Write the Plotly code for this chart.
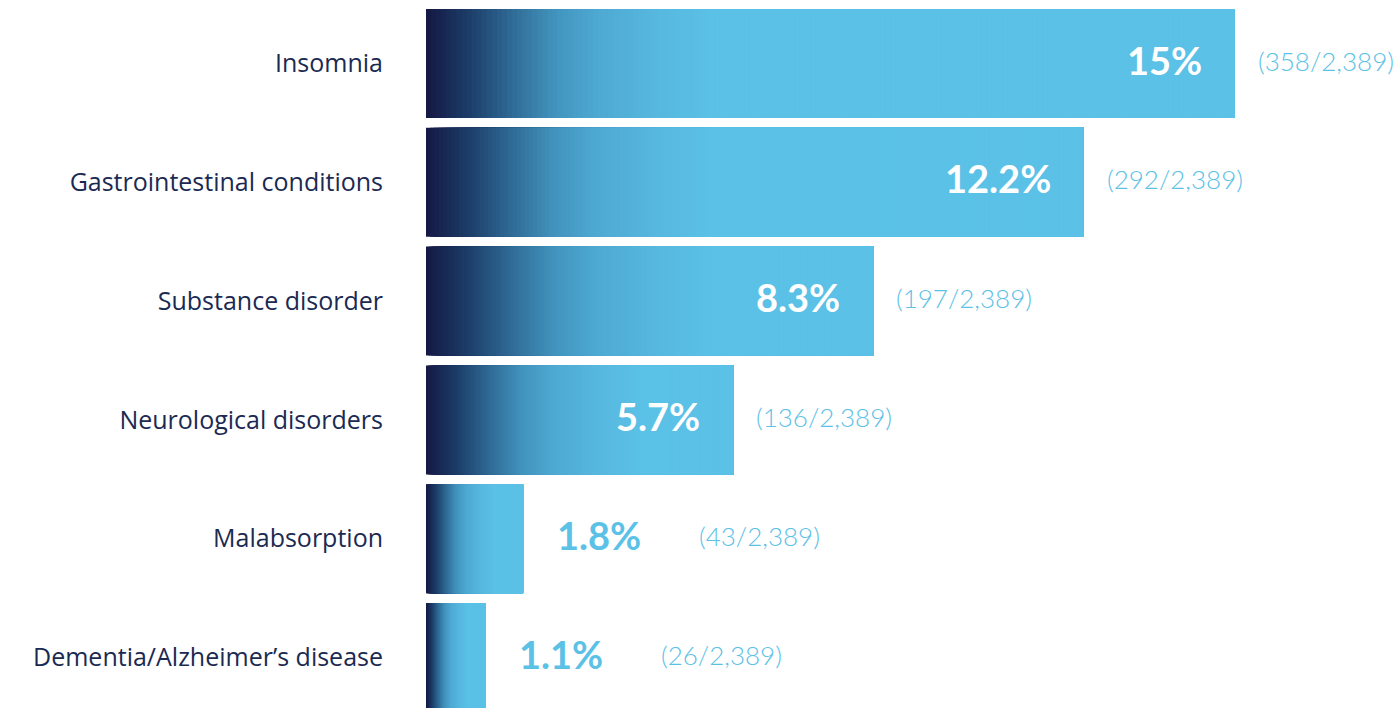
import plotly.graph_objects as go

categories = ["Insomnia", "Gastrointestinal conditions", "Substance disorder",
              "Neurological disorders", "Malabsorption", "Dementia/Alzheimer’s disease"]
percent = [15, 12.2, 8.3, 5.7, 1.8, 1.1]
pct_labels = ["15%", "12.2%", "8.3%", "5.7%", "1.8%", "1.1%"]
count_labels = ["(358/2,389)", "(292/2,389)", "(197/2,389)", "(136/2,389)", "(43/2,389)", "(26/2,389)"]

DARK = "#151a45"
LIGHT = "#5bc1e6"
NAVY_TEXT = "#1b2a52"
FONT = "Lato, 'Open Sans', sans-serif"
LABEL_FONT = "'Open Sans', Lato, sans-serif"

stops = [(0.0, (21, 26, 69)), (0.14, (28, 61, 104)), (0.29, (47, 106, 149)),
         (0.44, (65, 147, 189)), (0.59, (78, 169, 210)), (0.8, (87, 184, 223)),
         (1.0, (91, 193, 230))]


def grad(t):
    t = max(0.0, min(1.0, t))
    for (t0, c0), (t1, c1) in zip(stops[:-1], stops[1:]):
        if t <= t1:
            f = (t - t0) / (t1 - t0) if t1 > t0 else 0
            return "rgb(%d,%d,%d)" % tuple(round(a + (b - a) * f) for a, b in zip(c0, c1))
    return "rgb(%d,%d,%d)" % stops[-1][1]


ys = list(range(len(categories)))
fig = go.Figure()
N = 160
for k in range(N):
    frac = k / N
    bases, widths, cols = [], [], []
    for v in percent:
        s = v * frac
        L = min(0.7 * v, 5.3)
        bases.append(s)
        widths.append(v - s)
        cols.append(grad(s / L))
    fig.add_trace(go.Bar(y=ys, x=widths, base=bases, orientation="h",
                         marker=dict(color=cols, line=dict(width=0)),
                         width=0.9175, hoverinfo="skip", showlegend=False))

annotations = []
for i, (v, pl, cl) in enumerate(zip(percent, pct_labels, count_labels)):
    inside = v >= 5
    if inside:
        annotations.append(dict(x=v, y=i, xref="x", yref="y", text="<b>%s</b>" % pl,
                                showarrow=False, xanchor="right", xshift=-31, yshift=4,
                                font=dict(family=FONT, size=38, color="white")))
        annotations.append(dict(x=v, y=i, xref="x", yref="y", text=cl,
                                showarrow=False, xanchor="left", xshift=21, yshift=3,
                                font=dict(family=FONT, size=26, color=LIGHT, weight=300)))
    else:
        annotations.append(dict(x=v, y=i, xref="x", yref="y", text="<b>%s</b>" % pl,
                                showarrow=False, xanchor="left", xshift=32, yshift=4,
                                font=dict(family=FONT, size=38, color=LIGHT)))
        annotations.append(dict(x=v, y=i, xref="x", yref="y", text=cl,
                                showarrow=False, xanchor="left", xshift=174, yshift=3,
                                font=dict(family=FONT, size=26, color=LIGHT, weight=300)))

fig.update_layout(
    width=1397, height=708,
    margin=dict(l=426, r=0, t=0, b=0),
    barmode="overlay",
    plot_bgcolor="white", paper_bgcolor="white",
    annotations=annotations,
    xaxis=dict(range=[0, 971 / 53.9], visible=False, fixedrange=True),
    yaxis=dict(range=[5.425, -0.5345], tickvals=ys, ticktext=categories,
               showgrid=False, zeroline=False, showline=False, ticks="",
               ticklabelstandoff=42,
               tickfont=dict(family=LABEL_FONT, size=25, color=NAVY_TEXT)),
    font=dict(family=FONT),
)

fig.write_html("out.html")
